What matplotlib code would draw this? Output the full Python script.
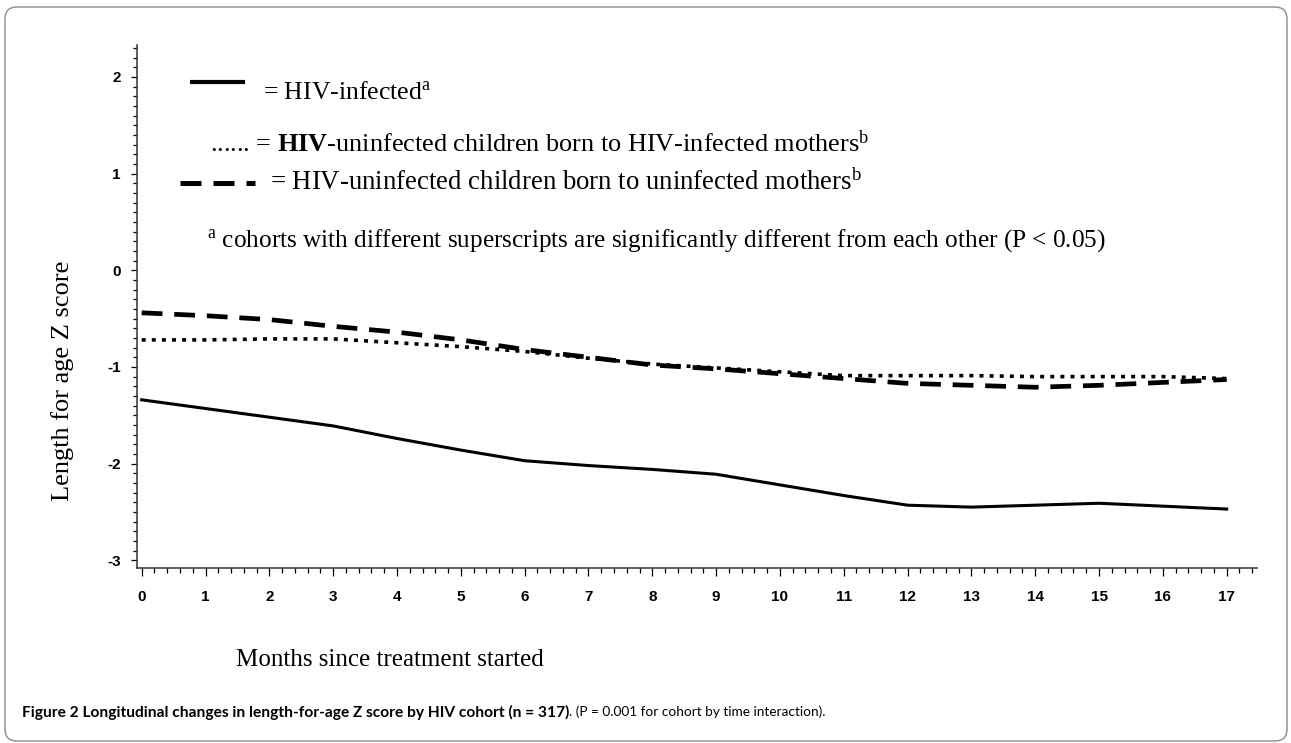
#!/usr/bin/env python3
"""
Longitudinal changes in length-for-age Z score by HIV cohort.
Three line series over months since treatment started.
"""

import matplotlib
matplotlib.use("Agg")
import matplotlib.pyplot as plt
from matplotlib.patches import FancyBboxPatch
from matplotlib.lines import Line2D
from matplotlib.ticker import MultipleLocator

# Months since treatment started
months = [0, 1, 2, 3, 4, 5, 6, 7, 8, 9, 10, 11, 12, 13, 14, 15, 16, 17]

# HIV-infected (solid)
hiv_infected = [-1.34, -1.43, -1.52, -1.61, -1.74, -1.86, -1.97, -2.02, -2.06,
                -2.11, -2.22, -2.33, -2.43, -2.45, -2.43, -2.41, -2.44, -2.47]

# HIV-uninfected, HIV-infected mothers (dotted)
uninf_hiv_mothers = [-0.72, -0.72, -0.71, -0.71, -0.75, -0.79, -0.84, -0.91, -0.97,
                     -1.01, -1.05, -1.09, -1.09, -1.09, -1.10, -1.10, -1.10, -1.12]

# HIV-uninfected, uninfected mothers (dashed)
uninf_uninf_mothers = [-0.44, -0.47, -0.51, -0.58, -0.64, -0.72, -0.82, -0.90, -0.98,
                       -1.02, -1.07, -1.12, -1.17, -1.19, -1.21, -1.19, -1.16, -1.13]

x_ticks = list(range(0, 18))
y_ticks = [-3, -2, -1, 0, 1, 2]

serif = "Liberation Serif"
plt.rcParams["axes.unicode_minus"] = False
plt.rcParams["mathtext.fontset"] = "custom"
plt.rcParams["mathtext.rm"] = serif
plt.rcParams["mathtext.bf"] = serif + ":bold"
plt.rcParams["mathtext.it"] = serif + ":italic"

fig = plt.figure(figsize=(12.91, 7.43), dpi=100)
ax = fig.add_axes([0.1059, 0.2355, 0.8675, 0.7039])

# Data lines
ax.plot(months, hiv_infected, color="black", lw=2.2, solid_joinstyle="round")
ax.plot(months, uninf_hiv_mothers, color="black", lw=2.6, dashes=(1.1, 1.7))
ax.plot(months, uninf_uninf_mothers, color="black", lw=3.4, dashes=(4.4, 2.5))

ax.set_xlim(-0.078, 17.47)
ax.set_ylim(-3.08, 2.33)

# Spines
for side in ["top", "right"]:
    ax.spines[side].set_visible(False)
for side in ["left", "bottom"]:
    ax.spines[side].set_linewidth(1.1)
    ax.spines[side].set_color("#333333")

# Ticks
ax.set_xticks(x_ticks)
ax.set_yticks(y_ticks)
ax.xaxis.set_minor_locator(MultipleLocator(0.2))
ax.yaxis.set_minor_locator(MultipleLocator(0.1))
ax.tick_params(axis="x", which="major", direction="out", length=6, width=0.9, pad=10)
ax.tick_params(axis="x", which="minor", direction="out", length=3.6, width=0.9)
ax.tick_params(axis="y", which="major", direction="out", length=4.5, width=0.9, pad=7)
ax.tick_params(axis="y", which="minor", direction="out", length=3, width=0.9)
for lab in ax.get_xticklabels() + ax.get_yticklabels():
    lab.set_fontfamily("Liberation Sans")
    lab.set_fontweight("bold")
    lab.set_fontsize(11)

# Axis titles
fig.text(0.302, 0.1117, "Months since treatment started", family=serif,
         fontsize=18, ha="center", va="center")
fig.text(0.0488, 0.487, "Length for age Z score", family=serif,
         fontsize=19, rotation=90, ha="center", va="center")

# Legend keys
fig.add_artist(Line2D([0.1487, 0.1882], [0.8896, 0.8896], color="black", lw=3))
fig.add_artist(Line2D([0.1395, 0.1975], [0.7537, 0.7537], color="black", lw=3.6,
                      dashes=(4.2, 2.4)))

# Legend texts
fig.text(0.2037, 0.8668, r"= HIV-infected$^{\mathrm{a}}$", family=serif,
         fontsize=18.5, va="baseline")
fig.text(0.1627, 0.7954,
         r"...... = $\mathbf{HIV}$-uninfected children born to HIV-infected mothers$^{\mathrm{b}}$",
         family=serif, fontsize=18.9, va="baseline")
fig.text(0.2091, 0.7443,
         r"= HIV-uninfected children born to uninfected mothers$^{\mathrm{b}}$",
         family=serif, fontsize=19.3, va="baseline")
fig.text(0.1603, 0.668,
         r"$^{\mathrm{a}}$ cohorts with different superscripts are significantly different from each other (P < 0.05)",
         family=serif, fontsize=18.2, va="baseline")

# Caption
cap = fig.text(0.017, 0.0417,
               "Figure 2 Longitudinal changes in length-for-age Z score by HIV cohort (n = 317)",
               family="Lato", fontweight="bold", fontsize=11.15, va="center")
ax.annotate(". (P = 0.001 for cohort by time interaction).", xy=(1, 0.5),
            xycoords=cap, va="center", ha="left", family="Lato", fontsize=9.8,
            annotation_clip=False)

# Rounded frame
frame = FancyBboxPatch((0.05, 0.02), 12.82, 7.34,
                       boxstyle="round,pad=0,rounding_size=0.12",
                       transform=fig.dpi_scale_trans, facecolor="none",
                       edgecolor="#8a8a8a", lw=1.0)
fig.add_artist(frame)

fig.savefig("out.png", dpi=100)
